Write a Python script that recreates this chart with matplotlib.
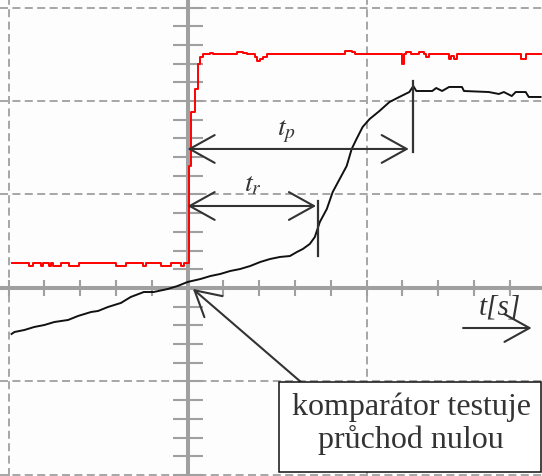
import numpy as np
import matplotlib
matplotlib.use("Agg")
import matplotlib.pyplot as plt
from matplotlib.patches import Rectangle

plt.rcParams["mathtext.fontset"] = "stix"

# Oscilloscope capture, both axes in screen divisions
# Black trace: measured signal
sig_t = [-0.983, -0.967, -0.911, -0.856, -0.800, -0.744, -0.667, -0.611, -0.539, -0.500,
         -0.444, -0.372, -0.317, -0.244, -0.189, -0.111, -0.056, 0.000, 0.072, 0.128,
         0.183, 0.239, 0.294, 0.350, 0.406, 0.461, 0.517, 0.572, 0.611, 0.644,
         0.683, 0.711, 0.739, 0.778, 0.811, 0.850, 0.889, 0.917, 0.944, 0.978,
         1.017, 1.072, 1.128, 1.183, 1.239, 1.261, 1.278, 1.367, 1.389, 1.422,
         1.461, 1.533, 1.544, 1.683, 1.739, 1.767, 1.811, 1.833, 1.889, 1.906, 1.972]
sig_v = [-0.492, -0.471, -0.449, -0.417, -0.396, -0.364, -0.342, -0.299, -0.257, -0.246,
         -0.203, -0.160, -0.096, -0.043, -0.043, -0.011, 0.021, 0.064, 0.096, 0.128,
         0.150, 0.182, 0.203, 0.235, 0.278, 0.310, 0.332, 0.342, 0.385, 0.417,
         0.471, 0.545, 0.706, 0.845, 1.027, 1.166, 1.305, 1.487, 1.594, 1.722,
         1.807, 1.893, 1.989, 2.043, 2.096, 2.160, 2.107, 2.107, 2.139, 2.107,
         2.150, 2.150, 2.107, 2.096, 2.075, 2.096, 2.053, 2.096, 2.096, 2.043, 2.043]

# Red trace: comparator output
cmp_t = [-0.983, -0.883, -0.861, -0.817, -0.806, -0.772, -0.761, -0.750, -0.706, -0.661,
         -0.606, -0.400, -0.344, -0.250, -0.233, -0.150, -0.094, -0.039, -0.022,
         0.006, 0.022, 0.044, 0.056, 0.067, 0.089,
         0.128, 0.144, 0.278, 0.311, 0.333, 0.378, 0.389, 0.406, 0.422, 0.444,
         0.878, 0.917, 0.933, 1.200, 1.211, 1.222, 1.250, 1.294, 1.322, 1.333,
         1.350, 1.461, 1.472, 1.489, 1.506, 1.861, 1.889, 1.972]
cmp_v = [0.264, 0.238, 0.264, 0.238, 0.264, 0.238, 0.264, 0.238, 0.264, 0.238,
         0.264, 0.238, 0.264, 0.238, 0.264, 0.238, 0.264, 0.238, 0.264,
         1.305, 1.882, 2.128, 2.396, 2.471, 2.503,
         2.513, 2.503, 2.524, 2.513, 2.503, 2.471, 2.428, 2.449, 2.471, 2.503,
         2.535, 2.524, 2.503, 2.396, 2.503, 2.524, 2.503, 2.524, 2.503, 2.471,
         2.503, 2.449, 2.481, 2.449, 2.503, 2.449, 2.503, 2.503]

# Timing marks (divisions after the zero crossing)
t_rise = 0.728
t_peak = 1.261
rise_mark = (0.342, 0.930)
peak_mark = (1.455, 2.214)
rise_arrow_v = 0.877
peak_arrow_v = 1.487

grid_x = [-1, 1, 2]
grid_y = [-2, -1, 1, 2, 3]

fig = plt.figure(figsize=(5.42, 4.77), dpi=100)
fig.patch.set_facecolor("#fdfdfd")
ax = fig.add_axes([0, 0, 1, 1])
ax.set_facecolor("#fdfdfd")
ax.set_xlim(-1.0475, 1.980)
ax.set_ylim(-2.011, 3.091)
ax.axis("off")

grid_c = "#a8a8a8"
dash = (0, (4, 2.2))
for gx in grid_x:
    ax.axvline(gx, color=grid_c, lw=1.44, ls=dash, zorder=1)
for gy in grid_y:
    ax.axhline(gy, color=grid_c, lw=1.44, ls=dash, zorder=1)

axis_c = "#a0a0a0"
ax.axhline(0, color=axis_c, lw=2.9, zorder=2)
ax.axvline(0, color=axis_c, lw=2.9, zorder=2)

xt = np.round(np.arange(-1.0, 2.01, 0.2), 3)
xt = xt[xt != 0]
yt = np.round(np.arange(-2.0, 3.01, 0.2), 3)
yt = yt[yt != 0]
ax.plot(xt, np.zeros_like(xt), ls="none", marker="|", ms=11.5, mew=1.5,
        color=axis_c, zorder=2)
ax.plot(np.zeros_like(yt), yt, ls="none", marker="_", ms=21.6, mew=1.5,
        color=axis_c, zorder=2)

ax.plot(cmp_t, cmp_v, color="#ff0000", lw=1.4, drawstyle="steps-post", zorder=3)
ax.plot(sig_t, sig_v, color="#111111", lw=1.4, zorder=4)

ink = "#333333"
ax.plot([t_rise, t_rise], rise_mark, color=ink, lw=1.6, zorder=5)
ax.plot([t_peak, t_peak], peak_mark, color=ink, lw=1.6, zorder=5)

head = "<->, head_length=18, head_width=10"
one_head = "->, head_length=18, head_width=10"
ax.annotate("", xy=(t_rise - 0.01, rise_arrow_v), xytext=(0, rise_arrow_v),
            arrowprops=dict(arrowstyle=head, color=ink, lw=1.5, mutation_scale=1,
                            shrinkA=0, shrinkB=0), zorder=6)
ax.annotate("", xy=(t_peak - 0.025, peak_arrow_v), xytext=(0, peak_arrow_v),
            arrowprops=dict(arrowstyle=head, color=ink, lw=1.5, mutation_scale=1,
                            shrinkA=0, shrinkB=0), zorder=6)

ax.text(0.366, 1.134, r"$t_r$", fontsize=20, color=ink, ha="center", va="center", zorder=6)
ax.text(0.550, 1.690, r"$t_p$", fontsize=20, color=ink, ha="center", va="center", zorder=6)

# time-axis label with its arrow
ax.text(1.746, -0.203, "t[s]", fontsize=21, family="Liberation Serif", style="italic",
        color=ink, ha="center", va="center", zorder=6)
ax.annotate("", xy=(1.922, -0.428), xytext=(1.539, -0.428),
            arrowprops=dict(arrowstyle=one_head, color=ink, lw=1.5, mutation_scale=1,
                            shrinkA=0, shrinkB=0), zorder=6)

# callout pointing at the zero crossing
ax.annotate("", xy=(0.03, -0.01), xytext=(0.633, -1.005),
            arrowprops=dict(arrowstyle=one_head, color=ink, lw=1.5, mutation_scale=1,
                            shrinkA=0, shrinkB=0), zorder=6)
ax.add_patch(Rectangle((0.511, -1.968), 1.975 - 0.511, 1.968 - 1.005,
                       facecolor="white", edgecolor="#111111", lw=1.1, zorder=7))
ax.text(1.249, -1.44, "komparátor testuje\nprůchod nulou", fontsize=23,
        family="Liberation Serif", color=ink, ha="center", va="center",
        linespacing=1.15, zorder=8)

fig.savefig("out.png", dpi=100, facecolor=fig.get_facecolor())
